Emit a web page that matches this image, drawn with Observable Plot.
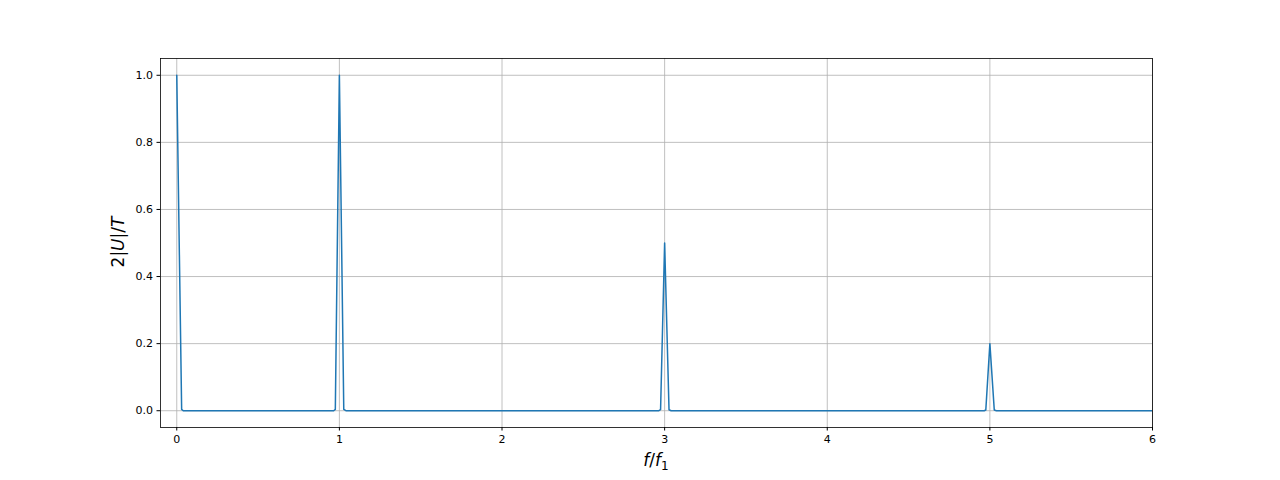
<!DOCTYPE html>
<html>
<head>
<meta charset="utf-8">
<script src="https://cdn.jsdelivr.net/npm/d3@7"></script>
<script src="https://cdn.jsdelivr.net/npm/@observablehq/plot@0.6"></script>
<style>
  html, body { margin: 0; padding: 0; background: #fff; }
  #chart { width: 1280px; height: 480px; }
  svg { font-family: "DejaVu Sans", sans-serif; }
</style>
</head>
<body>
<div id="chart"></div>
<script>
// Spectrum samples (f/f1 vs 2|U|/T)
const freqs = [0, 0.03, 0.04, 0.965, 0.975, 1.0, 1.027, 1.04, 2.965, 2.975, 3.0, 3.027, 3.04, 4.965, 4.975, 5.0, 5.027, 5.04, 6.0];
const amps  = [1.0, 0.004, 0.0, 0.0, 0.004, 1.0, 0.004, 0.0, 0.0, 0.003, 0.5, 0.003, 0.0, 0.0, 0.002, 0.2, 0.002, 0.0, 0.0];
const xTicks = [0, 1, 2, 3, 4, 5, 6];
const yTicks = [0.0, 0.2, 0.4, 0.6, 0.8, 1.0];

const data = freqs.map((f, i) => ({f, a: amps[i]}));

const W = 1280, H = 480;
const plot = Plot.plot({
  width: W,
  height: H,
  marginLeft: 160,
  marginRight: 128,
  marginTop: 58,
  marginBottom: 53,
  style: {fontFamily: "DejaVu Sans, sans-serif", fontSize: "11px", background: "#fff"},
  x: {domain: [-0.1, 6], label: null},
  y: {domain: [-0.05, 1.05], label: null},
  marks: [
    Plot.gridX(xTicks, {stroke: "#b0b0b0", strokeOpacity: 1, strokeWidth: 0.8}),
    Plot.gridY(yTicks, {stroke: "#b0b0b0", strokeOpacity: 1, strokeWidth: 0.8}),
    Plot.line(data, {x: "f", y: "a", stroke: "#1f77b4", strokeWidth: 1.5, clip: true}),
    Plot.frame({stroke: "#000", strokeWidth: 0.8}),
    Plot.axisX(xTicks, {tickSize: 3.5, tickPadding: 4, tickFormat: d => String(d), fontSize: 11, fill: "#000", stroke: "#000", label: null}),
    Plot.axisY(yTicks, {tickSize: 3.5, tickPadding: 4, tickFormat: d => d.toFixed(1), fontSize: 11, fill: "#000", stroke: "#000", label: null})
  ]
});
document.getElementById("chart").appendChild(plot);

const svg = d3.select(plot);
// x label: f/f1
const xl = svg.append("text")
  .attr("x", 656).attr("y", 466)
  .attr("text-anchor", "middle")
  .attr("font-size", 17)
  .attr("fill", "#000");
xl.append("tspan").attr("font-style", "italic").text("f");
xl.append("tspan").text("/");
xl.append("tspan").attr("font-style", "italic").text("f");
xl.append("tspan").attr("font-size", 12).attr("dy", 4).text("1");

// y label: 2|U|/T
const yl = svg.append("text")
  .attr("transform", "translate(124,242) rotate(-90)")
  .attr("text-anchor", "middle")
  .attr("font-size", 17)
  .attr("fill", "#000");
yl.append("tspan").text("2|");
yl.append("tspan").attr("font-style", "italic").text("U");
yl.append("tspan").text("|/");
yl.append("tspan").attr("font-style", "italic").text("T");
</script>
</body>
</html>
